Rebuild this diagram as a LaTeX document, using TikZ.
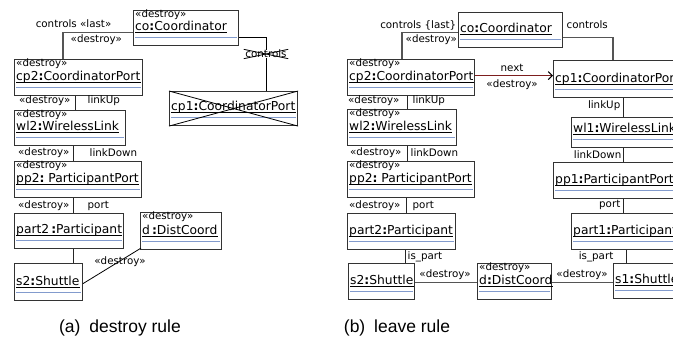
\documentclass[tikz,border=0pt]{standalone}
\usepackage{fontspec}
\setmainfont{DejaVu Sans}
\newfontfamily\capfont{Liberation Sans}
\usetikzlibrary{arrows.meta}
\definecolor{boxline}{HTML}{333333}
\definecolor{sepblue}{RGB}{130,155,205}
\definecolor{connGray}{HTML}{555555}
\definecolor{nextred}{RGB}{125,30,30}
\tikzset{
  objbox/.style={rectangle, draw=boxline, line width=1.1pt, fill=white, anchor=north west, inner sep=0pt},
  stereo/.style={font=\fontsize{10.3}{12}\selectfont, anchor=base west, inner sep=0pt},
  objname/.style={font=\fontsize{12.3}{14}\selectfont, anchor=base west, inner sep=0pt},
  sepline/.style={draw=sepblue, line width=1pt},
  uline/.style={draw=black, line width=0.9pt},
  lbl/.style={font=\fontsize{10.3}{12}\selectfont, inner sep=0.5pt},
  thickconn/.style={draw=connGray, line width=1.6pt},
  link/.style={draw=black!85, line width=1pt},
  thinconn/.style={draw=black, line width=0.8pt},
  nextarrow/.style={draw=nextred, line width=1.1pt, -{Straight Barb[length=4pt,width=8pt,color=black]}},
  capt/.style={font=\capfont\fontsize{17.5}{19}\selectfont, inner sep=0pt}
}
% #1 name, #2 x, #3 y(top), #4 width, #5 height, #6 stereotype, #7 label
\newcommand\umlobj[7]{%
  \node[objbox, minimum width=#4pt, minimum height=#5pt] (#1) at (#2,#3) {};
  \if\relax\detokenize{#6}\relax\else
    \node[stereo] (#1-st) at ([xshift=2pt,yshift=-7pt]#1.north west) {#6};
  \fi
  \node[objname] (#1-nm) at ([xshift=2pt,yshift=16pt]#1.south west) {#7};
  \draw[uline] ([yshift=-2.4pt]#1-nm.base west) -- ([yshift=-2.4pt]#1-nm.base east);
  \draw[sepline] ([xshift=2pt,yshift=8.5pt]#1.south west) -- ([xshift=-2pt,yshift=8.5pt]#1.south east);
}
\newcommand\cl{\textbf{:}}
\begin{document}
\begin{tikzpicture}[x=1pt,y=-1pt]
\useasboundingbox (0,0) rectangle (673,341);
\clip (0,0) rectangle (673,341);

% ---------------- panel (a) ----------------
\umlobj{coA}{133}{10}{105}{35}{«destroy»}{co\cl Coordinator}
\umlobj{cp2A}{14}{59}{128}{36}{«destroy»}{cp2\cl CoordinatorPort}
\umlobj{wl2A}{14}{110}{111}{35}{«destroy»}{wl2\cl WirelessLink}
\umlobj{pp2A}{14}{161}{127}{36}{«destroy»}{pp2\cl\ ParticipantPort}
\umlobj{part2A}{14}{213}{109}{35}{}{part2\,\cl Participant}
\umlobj{s2A}{14}{263}{68}{37}{}{s2\cl Shuttle}
\umlobj{dA}{140}{212}{81}{37}{«destroy»}{d\,\cl DistCoord}
\umlobj{cp1A}{169}{91}{128}{34}{}{cp1\cl CoordinatorPort}
\draw[thinconn] (cp1A.north west) -- (cp1A.south east);
\draw[thinconn] (cp1A.south west) -- (cp1A.north east);

\draw[thickconn] ([yshift=-4.5pt]coA.west) -| ([xshift=49pt]cp2A.north west);
\node[lbl, anchor=base east] (lcA1) at (112,27) {controls «last»};
\node[lbl, anchor=north west] (lcA2) at (70,34) {«destroy»};

\draw[link] ([xshift=61pt]cp2A.south west) -- ([xshift=61pt]wl2A.north west);
\node[lbl, anchor=east] (luA1) at (71,101) {«destroy»};
\node[lbl, anchor=west] (luA2) at (87,101) {linkUp};

\draw[link] ([xshift=59pt]wl2A.south west) -- ([xshift=59pt]pp2A.north west);
\node[lbl, anchor=east] (ldA1) at (70,153) {«destroy»};
\node[lbl, anchor=west] (ldA2) at (89,153) {linkDown};

\draw[link] ([xshift=59pt]pp2A.south west) -- ([xshift=59pt]part2A.north west);
\node[lbl, anchor=east] (lpA1) at (70,206) {«destroy»};
\node[lbl, anchor=west] (lpA2) at (87,206) {port};

\draw[link] ([xshift=59pt]part2A.south west) -- ([xshift=59pt]s2A.north west);

\draw[thinconn] ([yshift=-1.5pt]s2A.east) -- ([xshift=1pt,yshift=2pt]dA.south west);
\node[lbl] (lsA) at (120,262) {«destroy»};

\draw[thinconn] ([yshift=-9.5pt]coA.east) -| ([xshift=97pt]cp1A.north west);
\node[lbl, fill=white] (ctlA) at (266,54) {controls};
\draw[thinconn] ([xshift=-1pt]ctlA.north west) -- ([xshift=1pt]ctlA.south east);
\draw[thinconn] ([xshift=-1pt]ctlA.south west) -- ([xshift=1pt]ctlA.north east);

% ---------------- panel (b) ----------------
\umlobj{coB}{458}{12}{104}{35}{}{co\cl Coordinator}
\umlobj{cp2B}{347}{59}{127}{36}{«destroy»}{cp2\cl CoordinatorPort}
\umlobj{cp1B}{553}{60}{128}{37}{}{cp1\cl CoordinatorPort}
\umlobj{wl2B}{347}{109}{109}{36}{«destroy»}{wl2\cl WirelessLink}
\umlobj{wl1B}{571}{117}{110}{30}{}{wl1\cl WirelessLink}
\umlobj{pp2B}{347}{161}{127}{36}{«destroy»}{pp2\cl\ ParticipantPort}
\umlobj{pp1B}{553}{162}{128}{36}{}{pp1\cl ParticipantPort}
\umlobj{part2B}{347}{213}{108}{36}{}{part2\cl Participant}
\umlobj{part1B}{571}{213}{110}{36}{}{part1\cl Participant}
\umlobj{s2B}{348}{263}{66}{36}{}{s2\cl Shuttle}
\umlobj{dB}{477}{263}{74}{36}{«destroy»}{d\cl DistCoord}
\umlobj{s1B}{613}{263}{68}{35}{}{s1\cl Shuttle}

\draw[thickconn] ([yshift=-2.5pt]coB.west) -| ([xshift=55pt]cp2B.north west);
\node[lbl, anchor=base east] (lcB1) at (457,28) {controls \{last\}};
\node[lbl, anchor=north west] (lcB2) at (405,34) {«destroy»};

\draw[thickconn] ([yshift=-7.5pt]coB.east) -| ([xshift=60pt]cp1B.north west);
\node[lbl, anchor=base west] (lcB3) at (566,28) {controls};

\draw[nextarrow] ([yshift=2pt]cp2B.east) -- ([yshift=3.5pt]cp1B.west);
\node[lbl, anchor=base] (nxB1) at (512,71) {next};
\node[lbl] (nxB2) at (512,85) {«destroy»};

\draw[link] ([xshift=60pt]cp2B.south west) -- ([xshift=60pt]wl2B.north west);
\node[lbl, anchor=east] (luB1) at (400,101) {«destroy»};
\node[lbl, anchor=west] (luB2) at (412,101) {linkUp};

\draw[link] ([xshift=70pt]cp1B.south west) -- ([xshift=52pt]wl1B.north west);
\node[lbl, anchor=east] (luB3) at (621,106) {linkUp};

\draw[link] ([xshift=60pt]wl2B.south west) -- ([xshift=60pt]pp2B.north west);
\node[lbl, anchor=east] (ldB1) at (402,153) {«destroy»};
\node[lbl, anchor=west] (ldB2) at (410,153) {linkDown};

\draw[link] ([xshift=52pt]wl1B.south west) -- ([xshift=70pt]pp1B.north west);
\node[lbl, anchor=east] (ldB3) at (622,155) {linkDown};

\draw[link] ([xshift=59pt]pp2B.south west) -- ([xshift=59pt]part2B.north west);
\node[lbl, anchor=east] (lpB1) at (401,206) {«destroy»};
\node[lbl, anchor=west] (lpB2) at (412,206) {port};

\draw[link] ([xshift=70pt]pp1B.south west) -- ([xshift=52pt]part1B.north west);
\node[lbl, anchor=east] (lpB3) at (621,205) {port};

\draw[link] ([xshift=58pt]part2B.south west) -- ([xshift=57pt]s2B.north west);
\node[lbl, anchor=west] (ipB1) at (407,257) {is\_part};

\draw[link] ([xshift=55pt]part1B.south west) -- ([xshift=13pt]s1B.north west);
\node[lbl, anchor=east] (ipB2) at (614,257) {is\_part};

\draw[thickconn] ([yshift=-1pt]s2B.east) -- ([yshift=-1pt]dB.west);
\node[lbl] (lsB1) at (445,275) {«destroy»};
\draw[thickconn] ([yshift=-1pt]dB.east) -- ([yshift=-1.5pt]s1B.west);
\node[lbl] (lsB2) at (582,275) {«destroy»};

% captions
\node[capt] (capA) at (120,328) {(a)\hspace{4pt} destroy rule};
\node[capt] (capB) at (397,328) {(b)\hspace{4pt} leave rule};
\end{tikzpicture}
\end{document}
